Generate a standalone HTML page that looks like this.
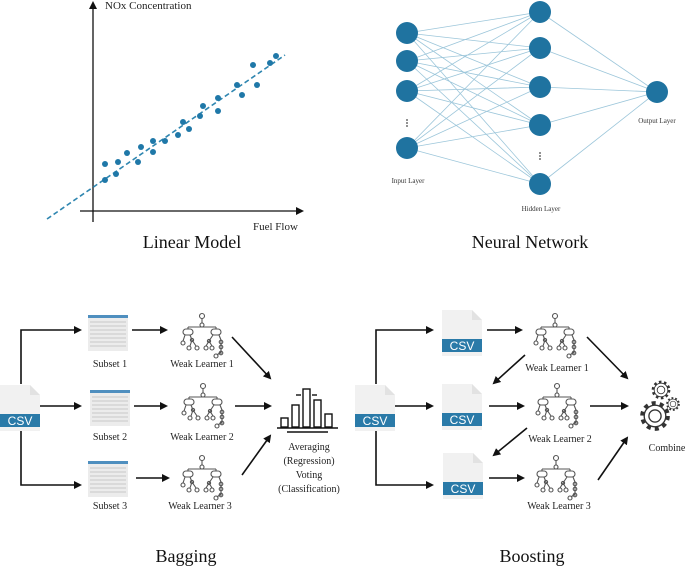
<!DOCTYPE html>
<html><head><meta charset="utf-8"><style>
body{margin:0;background:#fff;}
svg{display:block;font-family:"Liberation Serif",serif;}
</style></head><body>
<svg width="685" height="566" viewBox="0 0 685 566" xmlns="http://www.w3.org/2000/svg">
<defs>
<marker id="ah" markerWidth="8" markerHeight="8" refX="6" refY="4" orient="auto" markerUnits="userSpaceOnUse"><path d="M0,0 L8,4 L0,8 z" fill="#111"/></marker>
<g id="tree" fill="none" stroke="#555" stroke-width="1.1">
<circle cx="22" cy="3" r="2.5"/><line x1="22" y1="5.5" x2="22" y2="10"/><circle cx="22" cy="12" r="2"/>
<line x1="8" y1="14" x2="36" y2="14"/><line x1="8" y1="14" x2="8" y2="16"/><line x1="36" y1="14" x2="36" y2="16"/>
<rect x="3" y="16" width="10" height="6" rx="3"/><rect x="31" y="16" width="10" height="6" rx="3"/>
<line x1="5" y1="22" x2="3" y2="28"/><line x1="10" y1="22" x2="12" y2="27"/><line x1="12" y1="27" x2="10" y2="33"/><line x1="12" y1="27" x2="16" y2="33"/>
<circle cx="3" cy="30" r="2"/><circle cx="12" cy="27" r="1.6"/><circle cx="9" cy="35" r="2"/><circle cx="17" cy="35" r="2"/>
<line x1="33" y1="22" x2="29" y2="28"/><line x1="39" y1="22" x2="41" y2="27"/><line x1="29" y1="28" x2="26" y2="33"/><line x1="29" y1="28" x2="32" y2="33"/><line x1="41" y1="27" x2="41" y2="41"/><line x1="41" y1="39" x2="37" y2="42"/>
<circle cx="29" cy="28" r="1.6"/><circle cx="26" cy="35" r="2"/><circle cx="32" cy="35" r="2"/><circle cx="41" cy="29" r="1.8"/><circle cx="41" cy="34" r="1.8"/><circle cx="41" cy="40" r="1.8"/><circle cx="36" cy="43" r="2"/>
</g>
<g id="csv">
<path d="M0,0 H30 L40,10 V46 H0 z" fill="#f1f1f1"/><path d="M30,0 V10 H40" fill="#e2e2e2"/>
<rect x="0" y="29" width="40" height="13" fill="#2a7aa8"/>
<text x="20" y="40" text-anchor="middle" font-family="Liberation Sans,sans-serif" font-size="12" fill="#fff">CSV</text>
</g>
<g id="tbl">
<rect x="0" y="0" width="40" height="36" fill="#ececec"/><rect x="0" y="0" width="40" height="3" fill="#4f8fbf"/>
<g stroke="#c9c9c9" stroke-width="1"><line x1="2" y1="7" x2="38" y2="7"/><line x1="2" y1="11" x2="38" y2="11"/><line x1="2" y1="15" x2="38" y2="15"/><line x1="2" y1="19" x2="38" y2="19"/><line x1="2" y1="23" x2="38" y2="23"/><line x1="2" y1="27" x2="38" y2="27"/><line x1="2" y1="31" x2="38" y2="31"/></g>
</g>
<g id="gear" fill="none" stroke="#333">
<circle r="9.5" stroke-width="3" stroke-dasharray="3 3"/><circle r="8" stroke-width="1"/><circle r="4.5" stroke-width="1"/>
</g>
</defs>

<!-- Linear model -->
<g stroke="#111" stroke-width="1.3" marker-end="url(#ah)">
<line x1="93" y1="222" x2="93" y2="3"/><line x1="80" y1="211" x2="302" y2="211"/>
</g>
<line x1="47" y1="219" x2="285" y2="55" stroke="#2f86b0" stroke-width="1.6" stroke-dasharray="5 3"/>
<g fill="#1f78a8">
<circle cx="105" cy="164" r="3"/><circle cx="105" cy="180" r="3"/><circle cx="118" cy="162" r="3"/><circle cx="116" cy="174" r="3"/><circle cx="127" cy="153" r="3"/><circle cx="138" cy="162" r="3"/><circle cx="141" cy="147" r="3"/><circle cx="153" cy="141" r="3"/><circle cx="153" cy="152" r="3"/><circle cx="165" cy="141" r="3"/><circle cx="178" cy="135" r="3"/><circle cx="183" cy="122" r="3"/><circle cx="189" cy="129" r="3"/><circle cx="200" cy="116" r="3"/><circle cx="203" cy="106" r="3"/><circle cx="218" cy="98" r="3"/><circle cx="218" cy="111" r="3"/><circle cx="237" cy="85" r="3"/><circle cx="242" cy="95" r="3"/><circle cx="253" cy="65" r="3"/><circle cx="257" cy="85" r="3"/><circle cx="270" cy="63" r="3"/><circle cx="276" cy="56" r="3"/>
</g>
<text x="105" y="9" font-size="11" fill="#222">NOx Concentration</text>
<text x="253" y="230" font-size="11" fill="#222">Fuel Flow</text>
<text x="192" y="248" font-size="18" text-anchor="middle" fill="#111">Linear Model</text>

<!-- Neural network -->
<g stroke="#9cc6da" stroke-width="0.8">
<path d="M407,33L540,12M407,33L540,48M407,33L540,87M407,33L540,125M407,33L540,184
M407,61L540,12M407,61L540,48M407,61L540,87M407,61L540,125M407,61L540,184
M407,91L540,12M407,91L540,48M407,91L540,87M407,91L540,125M407,91L540,184
M407,148L540,12M407,148L540,48M407,148L540,87M407,148L540,125M407,148L540,184
M540,12L657,92M540,48L657,92M540,87L657,92M540,125L657,92M540,184L657,92"/>
</g>
<g fill="#1f73a0">
<circle cx="407" cy="33" r="11"/><circle cx="407" cy="61" r="11"/><circle cx="407" cy="91" r="11"/><circle cx="407" cy="148" r="11"/>
<circle cx="540" cy="12" r="11"/><circle cx="540" cy="48" r="11"/><circle cx="540" cy="87" r="11"/><circle cx="540" cy="125" r="11"/><circle cx="540" cy="184" r="11"/>
<circle cx="657" cy="92" r="11"/>
</g>
<g fill="#444"><circle cx="407" cy="120" r="0.9"/><circle cx="407" cy="123" r="0.9"/><circle cx="407" cy="126" r="0.9"/>
<circle cx="540" cy="153" r="0.9"/><circle cx="540" cy="156" r="0.9"/><circle cx="540" cy="159" r="0.9"/></g>
<g font-size="7" fill="#333" text-anchor="middle">
<text x="408" y="183">Input Layer</text><text x="541" y="211">Hidden Layer</text><text x="657" y="123">Output Layer</text>
</g>
<text x="530" y="248" font-size="18" text-anchor="middle" fill="#111">Neural Network</text>

<!-- Bagging -->
<use href="#csv" x="0" y="385"/>
<g stroke="#111" stroke-width="1.6" fill="none" marker-end="url(#ah)">
<path d="M21,384 V330 H80"/><path d="M21,431 V485 H80"/><line x1="40" y1="406" x2="80" y2="406"/>
<line x1="132" y1="330" x2="166" y2="330"/><line x1="134" y1="406" x2="166" y2="406"/><line x1="136" y1="478" x2="168" y2="478"/>
<line x1="232" y1="337" x2="270" y2="378"/><line x1="235" y1="406" x2="270" y2="406"/><line x1="242" y1="475" x2="270" y2="436"/>
</g>
<use href="#tbl" x="88" y="315"/><use href="#tbl" x="90" y="390"/><use href="#tbl" x="88" y="461"/>
<use href="#tree" x="180" y="313"/><use href="#tree" x="181" y="383"/><use href="#tree" x="180" y="455"/>
<g font-size="10" fill="#222" text-anchor="middle">
<text x="110" y="367">Subset 1</text><text x="110" y="440">Subset 2</text><text x="110" y="509">Subset 3</text>
<text x="202" y="367">Weak Learner 1</text><text x="202" y="440">Weak Learner 2</text><text x="200" y="509">Weak Learner 3</text>
<text x="309" y="450">Averaging</text><text x="309" y="464">(Regression)</text><text x="309" y="478">Voting</text><text x="309" y="492">(Classification)</text>
</g>
<g fill="none" stroke="#111" stroke-width="1.4">
<rect x="281" y="418" width="7" height="9"/><rect x="292" y="405" width="7" height="22"/><rect x="303" y="389" width="7" height="38"/><rect x="314" y="400" width="7" height="27"/><rect x="325" y="414" width="7" height="13"/>
<line x1="277" y1="428" x2="338" y2="428"/><line x1="287" y1="432" x2="328" y2="432"/>
<line x1="296" y1="395" x2="301" y2="395"/><line x1="312" y1="395" x2="317" y2="395"/>
</g>

<!-- Boosting -->
<use href="#csv" x="355" y="385"/>
<use href="#csv" x="442" y="310"/><use href="#csv" x="442" y="384"/><use href="#csv" x="443" y="453"/>
<g stroke="#111" stroke-width="1.6" fill="none" marker-end="url(#ah)">
<path d="M376,384 V330 H432"/><path d="M376,431 V485 H432"/><line x1="395" y1="406" x2="432" y2="406"/>
<line x1="487" y1="330" x2="521" y2="330"/><line x1="489" y1="406" x2="523" y2="406"/><line x1="489" y1="478" x2="523" y2="478"/>
<line x1="525" y1="355" x2="494" y2="383"/><line x1="527" y1="428" x2="494" y2="455"/>
<line x1="587" y1="337" x2="627" y2="378"/><line x1="590" y1="406" x2="627" y2="406"/><line x1="598" y1="480" x2="627" y2="438"/>
</g>
<use href="#tree" x="533" y="313"/><use href="#tree" x="535" y="383"/><use href="#tree" x="534" y="455"/>
<g font-size="10" fill="#222" text-anchor="middle">
<text x="557" y="371">Weak Learner 1</text><text x="560" y="442">Weak Learner 2</text><text x="559" y="509">Weak Learner 3</text>
<text x="667" y="451">Combine</text>
</g>
<use href="#gear" transform="translate(655 416) scale(1.35)"/>
<use href="#gear" transform="translate(661 390) scale(0.85)"/>
<use href="#gear" transform="translate(673 404) scale(0.62)"/>

<text x="186" y="562" font-size="18" text-anchor="middle" fill="#111">Bagging</text>
<text x="532" y="562" font-size="18" text-anchor="middle" fill="#111">Boosting</text>
</svg>
</body></html>
